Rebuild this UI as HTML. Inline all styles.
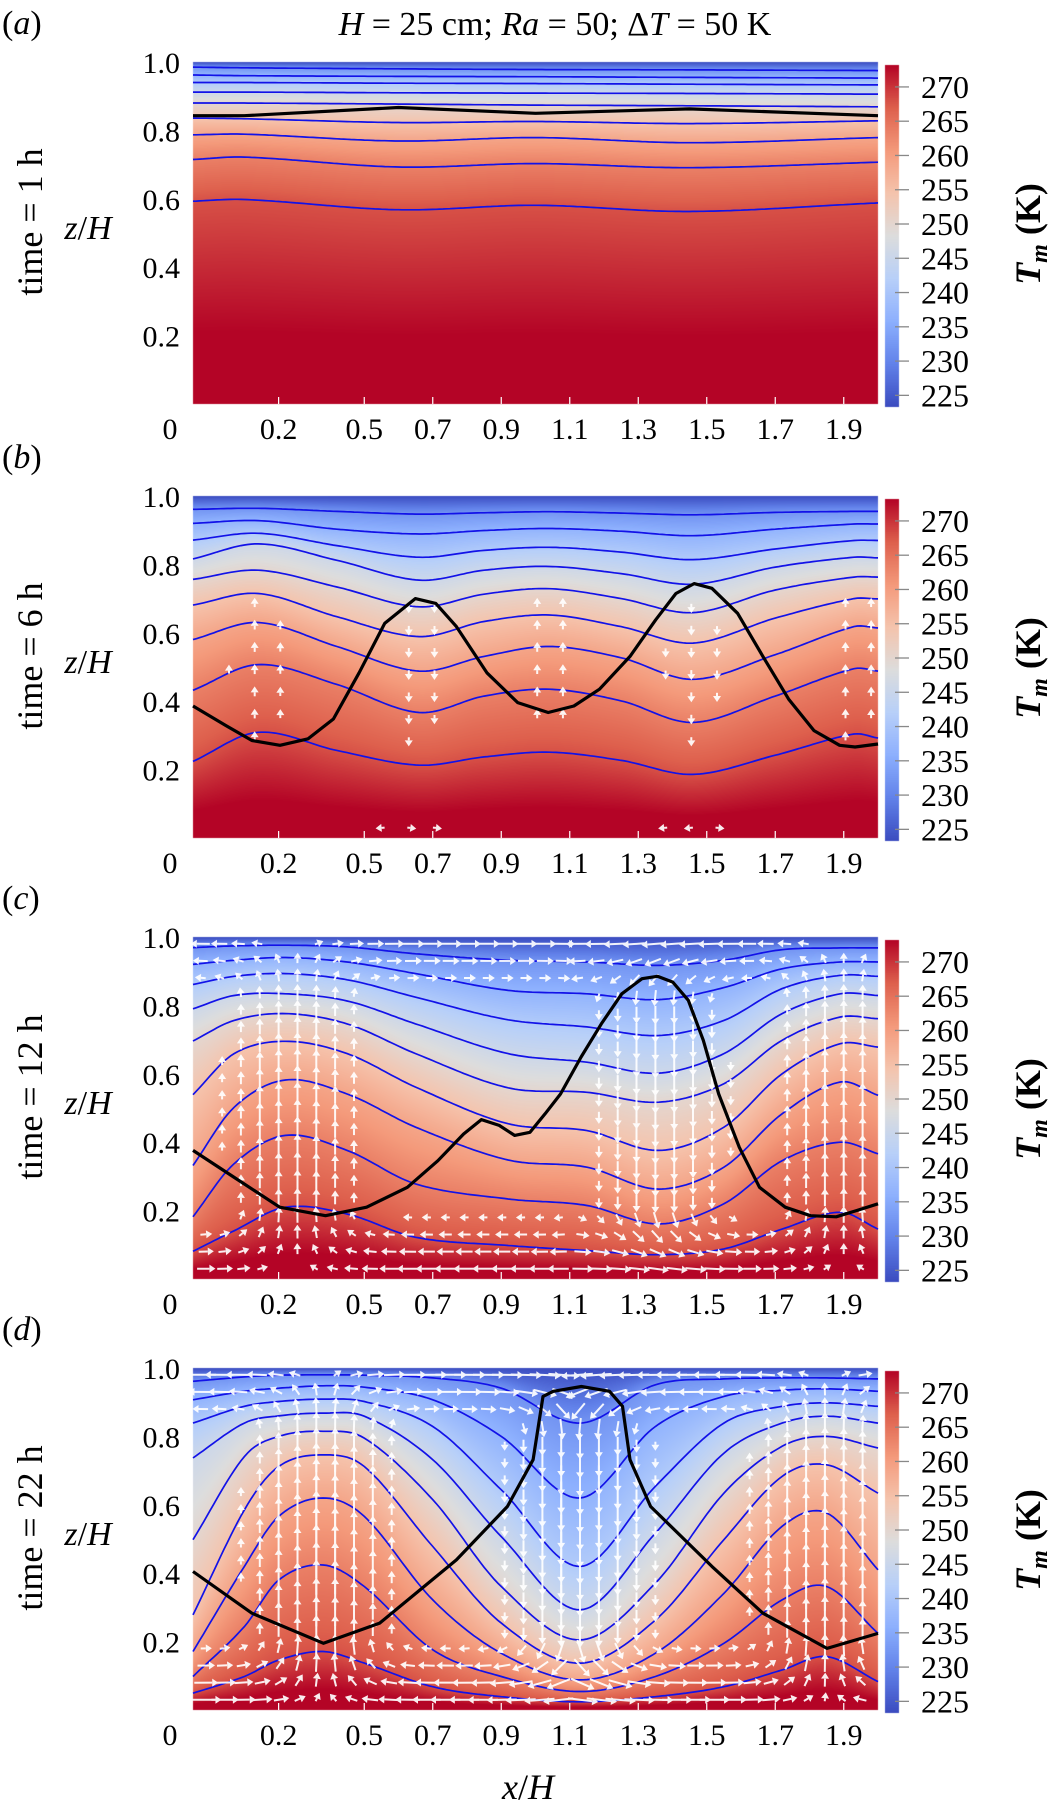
<!DOCTYPE html>
<html><head><meta charset="utf-8"><title>Temperature field panels</title>
<style>
body{margin:0;width:1050px;height:1811px;background:#fff;position:relative;overflow:hidden}
#cv,#sv{position:absolute;left:0;top:0}
text{font-family:"Liberation Serif",serif;fill:#000}
</style></head>
<body>
<canvas id="cv" width="1050" height="1811"></canvas>
<svg id="sv" width="1050" height="1811" xmlns="http://www.w3.org/2000/svg" font-family="Liberation Serif, serif"></svg>
<script>
// ---------- data ----------
const isoLevels=[232,236.5,241,245.5,250,254.5,259,263.5,268];
const cbTicks=[225,230,235,240,245,250,255,260,265,270];
const yTickVals=[0.2,0.4,0.6,0.8,1.0];
const yTickLabels=['0.2','0.4','0.6','0.8','1.0'];
const xTickVals=[0.25,0.5,0.7,0.9,1.1,1.3,1.5,1.7,1.9];
const xTickLabels=['0.2','0.5','0.7','0.9','1.1','1.3','1.5','1.7','1.9'];
const panelLetters=['a','b','c','d'];
const panelTimes=['1 h','6 h','12 h','22 h'];

const xsA=[0,0.15,0.6,1.0,1.45,2.0];
const linesA=[
[.985,.983,.980,.978,.977,.975],
[.962,.960,.958,.957,.955,.953],
[.940,.940,.938,.937,.935,.933],
[.912,.912,.910,.909,.908,.906],
[.880,.880,.877,.874,.872,.869],
[.836,.834,.823,.826,.820,.828],
[.787,.789,.769,.779,.764,.779],
[.715,.722,.693,.703,.691,.707],
[.593,.598,.568,.581,.563,.588]];
const blackXA=[0,0.15,0.6,1.0,1.45,2.0];
const blackZA=[.843,.843,.867,.850,.863,.843];

const xsB=[0,0.19,0.42,0.66,0.85,1.04,1.25,1.46,1.7,1.93,2.0];
const linesB=[
[.961,.964,.955,.947,.951,.954,.950,.945,.952,.955,.955],
[.920,.928,.903,.889,.899,.905,.897,.884,.903,.918,.918],
[.871,.891,.855,.821,.841,.850,.836,.814,.845,.870,.870],
[.816,.860,.812,.754,.783,.794,.773,.742,.792,.821,.819],
[.756,.783,.734,.676,.713,.729,.700,.659,.725,.763,.763],
[.681,.715,.647,.589,.633,.652,.618,.570,.643,.700,.699],
[.580,.630,.560,.488,.531,.560,.527,.464,.536,.618,.614],
[.432,.507,.449,.367,.415,.435,.401,.338,.415,.495,.488],
[.224,.309,.256,.213,.237,.251,.227,.186,.242,.304,.292]];
const blackXB=[0,.097,.172,.254,.336,.410,.485,.560,.649,.709,.769,.858,.948,1.037,1.112,1.187,1.276,1.351,1.410,1.463,1.515,1.590,1.664,1.739,1.813,1.888,1.933,2.0];
const blackZB=[.386,.328,.285,.271,.290,.348,.483,.628,.700,.686,.618,.483,.396,.367,.386,.435,.531,.638,.715,.744,.730,.657,.531,.406,.314,.271,.266,.275];

const xsC=[0,0.12,0.27,0.45,0.65,0.92,1.15,1.36,1.55,1.72,1.89,2.0];
const linesC=[
[.969,.974,.976,.971,.951,.932,.927,.917,.932,.963,.968,.968],
[.920,.932,.940,.927,.893,.844,.834,.817,.852,.907,.927,.927],
[.861,.885,.893,.875,.824,.758,.737,.712,.756,.849,.888,.885],
[.790,.829,.834,.813,.746,.659,.634,.602,.659,.776,.834,.829],
[.696,.756,.776,.746,.659,.559,.546,.517,.571,.698,.766,.761],
[.539,.659,.695,.659,.561,.454,.434,.376,.444,.600,.688,.678],
[.332,.502,.582,.541,.444,.348,.327,.263,.327,.483,.576,.537],
[.182,.337,.420,.376,.278,.234,.215,.161,.220,.346,.400,.366],
[.081,.141,.210,.190,.122,.098,.083,.071,.088,.146,.195,.146]];
const blackXC=[0,.119,.253,.387,.507,.626,.715,.790,.842,.894,.939,.984,1.028,1.073,1.133,1.192,1.252,1.311,1.356,1.401,1.446,1.490,1.535,1.595,1.654,1.729,1.803,1.878,1.937,2.0];
const blackZC=[.376,.298,.210,.185,.210,.268,.346,.424,.466,.449,.420,.429,.483,.541,.649,.746,.834,.878,.885,.868,.815,.698,.541,.385,.268,.210,.185,.182,.200,.220];

const xsD=[0,0.15,0.25,0.38,0.5,0.7,0.9,1.13,1.35,1.55,1.72,1.85,2.0];
const linesD=[
[.961,.974,.979,.980,.979,.971,.941,.839,.951,.968,.971,.971,.968],
[.907,.932,.941,.948,.944,.907,.800,.620,.829,.917,.935,.939,.932],
[.839,.888,.902,.909,.902,.829,.644,.420,.654,.839,.888,.898,.888],
[.737,.839,.860,.868,.859,.732,.507,.293,.517,.751,.839,.859,.839],
[.498,.741,.800,.815,.795,.615,.361,.205,.371,.634,.771,.800,.766],
[.278,.585,.712,.746,.712,.478,.254,.137,.263,.498,.683,.717,.634],
[.171,.420,.566,.620,.566,.322,.166,.088,.166,.341,.537,.576,.410],
[.098,.244,.380,.424,.361,.176,.098,.054,.098,.195,.322,.361,.224],
[.049,.098,.146,.171,.137,.068,.039,.024,.039,.068,.117,.156,.083]];
const blackXD=[0,.172,.381,.545,.769,.918,.993,1.022,1.052,1.134,1.216,1.254,1.276,1.336,1.515,1.664,1.851,2.0];
const blackZD=[.405,.283,.195,.254,.439,.595,.732,.917,.932,.946,.932,.888,.732,.595,.420,.283,.180,.224];

// flow decoration (up/down-welling columns, relative strength)
const upXB=[0.19,1.04,1.93], downXB=[0.66,1.46], flowB=4;
const upXC=[0.3,1.9], downXC=[1.36], flowC=20;
const upXD=[0.38,1.85], downXD=[1.13], flowD=32;

// ---------- layout ----------
const PX0=193, PX1=878, PW=PX1-PX0, PH=342;
const tops=[62,496,937,1368];
const CB0=885, CBW=14, TMIN=223.3, TMAX=273.2, TBOT=276;
const panels=[
 {xs:xsA,lines:linesA,bx:blackXA,bz:blackZA,up:[],down:[],flow:0},
 {xs:xsB,lines:linesB,bx:blackXB,bz:blackZB,up:upXB,down:downXB,flow:flowB},
 {xs:xsC,lines:linesC,bx:blackXC,bz:blackZC,up:upXC,down:downXC,flow:flowC},
 {xs:xsD,lines:linesD,bx:blackXD,bz:blackZD,up:upXD,down:downXD,flow:flowD}];

const stops=[[59,76,192],[98,130,234],[141,176,254],[184,208,249],[221,221,221],[245,196,173],[244,154,123],[222,96,77],[180,4,38]];
function cmap(T){let t=(T-TMIN)/(TMAX-TMIN);t=Math.max(0,Math.min(1,t));const f=t*8;const i=Math.min(7,Math.floor(f));const r=f-i;const a=stops[i],b=stops[i+1];return [a[0]+(b[0]-a[0])*r,a[1]+(b[1]-a[1])*r,a[2]+(b[2]-a[2])*r];}
function interp(xs,zs,x){const n=xs.length;if(x<=xs[0])return zs[0];if(x>=xs[n-1])return zs[n-1];let i=0;while(x>xs[i+1])i++;
 const h=xs[i+1]-xs[i],t=(x-xs[i])/h;
 const m=k=>{if(k===0)return (zs[1]-zs[0])/(xs[1]-xs[0]);if(k===n-1)return (zs[n-1]-zs[n-2])/(xs[n-1]-xs[n-2]);return (zs[k+1]-zs[k-1])/(xs[k+1]-xs[k-1]);};
 const t2=t*t,t3=t2*t;return (2*t3-3*t2+1)*zs[i]+(t3-2*t2+t)*h*m(i)+(-2*t3+3*t2)*zs[i+1]+(t3-t2)*h*m(i+1);}
const xp=x=>PX0+x/2*PW;
const zp=(z,top)=>top+(1-z)*PH;

// ---------- canvas fields ----------
const cv=document.getElementById('cv');const ctx=cv.getContext('2d');
panels.forEach((p,pi)=>{
 const top=tops[pi];const img=ctx.createImageData(PW,PH);const d=img.data;
 const Tb=[TMIN].concat(isoLevels).concat([TBOT]);
 for(let c=0;c<PW;c++){const x=(c+0.5)/PW*2;const zb=[1];p.lines.forEach(l=>zb.push(interp(p.xs,l,x)));zb.push(0);
  for(let r=0;r<PH;r++){const z=1-(r+0.5)/PH;let T=TBOT;
   for(let k=0;k<zb.length-1;k++){if(z>=zb[k+1]){const den=zb[k]-zb[k+1];const f=den>1e-6?(zb[k]-z)/den:0;T=Tb[k]+(Tb[k+1]-Tb[k])*Math.max(0,Math.min(1,f));break;}}
   const col=cmap(T);const o=(r*PW+c)*4;d[o]=col[0];d[o+1]=col[1];d[o+2]=col[2];d[o+3]=255;}}
 ctx.putImageData(img,PX0,top);
 for(let r=0;r<PH;r++){const T=TMAX-(r+0.5)/PH*(TMAX-TMIN);const col=cmap(T);ctx.fillStyle=`rgb(${col[0]|0},${col[1]|0},${col[2]|0})`;ctx.fillRect(CB0,top+3+r,CBW,1);}
});

// ---------- svg overlay ----------
const NS='http://www.w3.org/2000/svg';const sv=document.getElementById('sv');
function mk(tag,attrs,parent){const e=document.createElementNS(NS,tag);for(const k in attrs)e.setAttribute(k,attrs[k]);(parent||sv).appendChild(e);return e;}
function txt(str,attrs,parent){const e=mk('text',attrs,parent);e.innerHTML=str;return e;}

let el=txt('<tspan font-style="italic">H</tspan> = 25 cm; <tspan font-style="italic">Ra</tspan> = 50; Δ<tspan font-style="italic">T</tspan> = 50 K',{x:555,y:35,'font-size':34,'text-anchor':'middle'});



panels.forEach((p,pi)=>{
 const top=tops[pi],bot=top+PH;
 const g=mk('g',{});
 
 
 let t=txt('(<tspan font-style="italic">'+panelLetters[pi]+'</tspan>)',{x:2,y:top-28,'font-size':34},g);
 
 
 p.lines.forEach((l,li)=>{let dstr='';for(let s=0;s<=200;s++){const x=s/100;dstr+=(s?'L':'M')+xp(x).toFixed(1)+' '+zp(interp(p.xs,l,x),top).toFixed(1);}
  const path=mk('path',{d:dstr,fill:'none',stroke:'#1212e8','stroke-width':1.7},g);
  
  });
 if(p.flow>0){const ag=mk('g',{stroke:'#fff',fill:'#fff','stroke-width':2,opacity:0.92},g);
  
  
  const dx=pi===1?0.075:0.055, dz=pi===1?0.065:0.05;
  for(let x=0.03;x<2;x+=dx){for(let z=0.03;z<0.99;z+=dz){
   let w=0;p.up.forEach(u=>w+=Math.exp(-Math.pow((x-u)/0.16,2)));p.down.forEach(u=>w-=Math.exp(-Math.pow((x-u)/0.16,2)));
   w*=Math.sin(Math.PI*z);
   let near=p.up.reduce((a,b)=>Math.abs(b-x)<Math.abs(a-x)?b:a);let sgn=near>x?1:-1;
   let u=0;if(z<0.22)u=sgn*(0.22-z)*4*Math.min(1,Math.abs(near-x)*3);if(z>0.82)u=-sgn*(z-0.82)*5*Math.min(1,Math.abs(near-x)*3);
   const vx=u*p.flow,vy=-w*p.flow;const L=Math.hypot(vx,vy);if(L<3)continue;
   const cx=xp(x),cy=zp(z,top);const x1=cx-vx/2,y1=cy-vy/2,x2=cx+vx/2,y2=cy+vy/2;const ux=vx/L,uy=vy/L;
   mk('line',{x1:x1.toFixed(1),y1:y1.toFixed(1),x2:x2.toFixed(1),y2:y2.toFixed(1)},ag);
   mk('polygon',{points:`${x2+ux*6},${y2+uy*6} ${x2-uy*4},${y2+ux*4} ${x2+uy*4},${y2-ux*4}`,stroke:'none'},ag);}}}
 let bd='';p.bx.forEach((x,i)=>{bd+=(i?'L':'M')+xp(x).toFixed(1)+' '+zp(p.bz[i],top).toFixed(1);});
 const bl=mk('path',{d:bd,fill:'none',stroke:'#000','stroke-width':3.2,'stroke-linejoin':'round'},g);
 
 
 xTickVals.forEach((v,i)=>{mk('line',{x1:xp(v),x2:xp(v),y1:bot-7,y2:bot,stroke:'#fff','stroke-width':1.2},g);
  const tl=txt(xTickLabels[i],{x:xp(v),y:bot+35,'font-size':30,'text-anchor':'middle'},g);
  
  });
 const t0=txt('0',{x:170,y:bot+35,'font-size':30,'text-anchor':'middle'},g);
 
 
 yTickVals.forEach((v,i)=>{const yl=txt(yTickLabels[i],{x:180,y:zp(v,top)+11,'font-size':30,'text-anchor':'end'},g);
  
  });
 const zl=txt('<tspan font-style="italic">z</tspan>/<tspan font-style="italic">H</tspan>',{x:88,y:top+177,'font-size':34,'text-anchor':'middle'},g);
 
 
 const tl2=txt('time = '+panelTimes[pi],{x:0,y:0,'font-size':36,'text-anchor':'middle',transform:`translate(42,${top+160}) rotate(-90)`},g);
 
 
 cbTicks.forEach(T=>{const y=top+3+(TMAX-T)/(TMAX-TMIN)*PH;
  mk('line',{x1:CB0+CBW-4,x2:CB0+CBW+10,y1:y,y2:y,stroke:'#888','stroke-width':1.3},g);
  const cl=txt(String(T),{x:921,y:y+11,'font-size':32},g);
  
  });
 const cbt=txt('<tspan font-style="italic">T</tspan><tspan font-style="italic" font-size="24" dy="7">m</tspan><tspan dy="-7"> (K)</tspan>',{x:0,y:0,'font-size':36,'font-weight':'bold','text-anchor':'middle',transform:`translate(1040,${top+172}) rotate(-90)`},g);
 
 
});
const xt=txt('<tspan font-style="italic">x</tspan>/<tspan font-style="italic">H</tspan>',{x:528,y:1799,'font-size':36,'text-anchor':'middle'});


</script>
</body></html>
